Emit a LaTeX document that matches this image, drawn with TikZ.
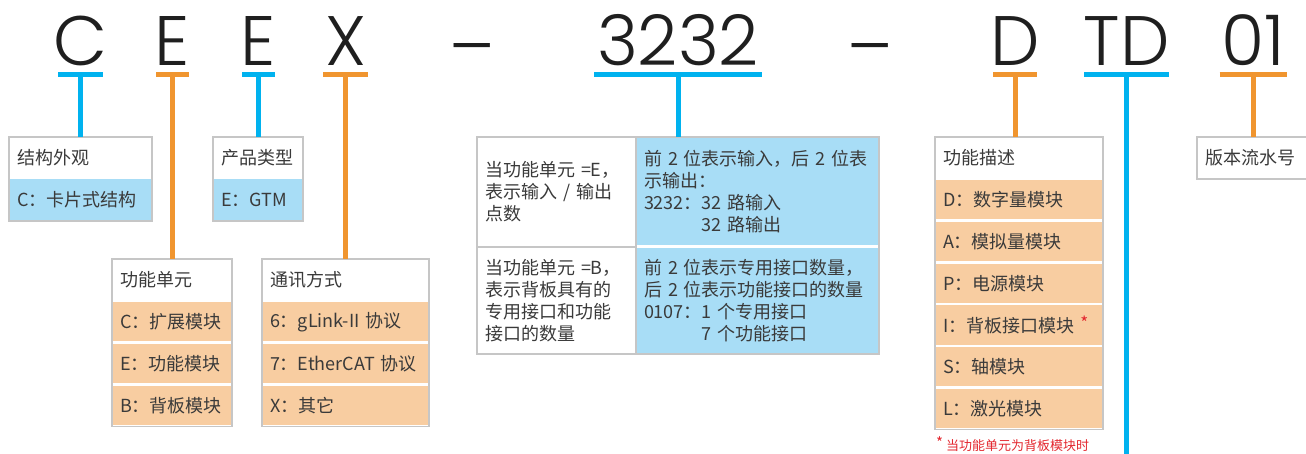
\documentclass[tikz,border=0pt]{standalone}
\usepackage{fontspec}
\usepackage{tikz}
\usetikzlibrary{positioning}
\newfontfamily\cjkfont{Noto Sans CJK SC}
\newfontfamily\codefont{Poppins Light}
\definecolor{lineblue}{HTML}{00B2EF}
\definecolor{lineorange}{HTML}{F0952F}
\definecolor{fillblue}{HTML}{A8DDF6}
\definecolor{fillorange}{HTML}{F8CDA1}
\definecolor{boxgray}{HTML}{C6C6C6}
\definecolor{inkgray}{HTML}{3A3A3A}
\definecolor{notered}{HTML}{E3262E}
\tikzset{code/.style = {font=\codefont\fontsize{70}{70}\selectfont, text=black!88, anchor=base, inner sep=0}}
\tikzset{bluebar/.style = {lineblue, line width=5}}
\tikzset{orangebar/.style = {lineorange, line width=5}}
\tikzset{cell/.style = {font=\cjkfont\fontsize{18}{22}\selectfont, text=inkgray, align=left,
                        inner xsep=8, inner ysep=0, outer sep=0, minimum height=42, text width=#1}}
\tikzset{hdr/.style = {cell=#1, fill=white, anchor=north}}
\tikzset{bluerow/.style = {cell=#1, fill=fillblue}}
\tikzset{orangerow/.style = {cell=#1, fill=fillorange, draw=white, line width=2.5, minimum height=41.7}}
\tikzset{frame/.style = {draw=boxgray, line width=1.2}}
\newcommand{\redstar}{\textcolor{notered}{\raisebox{3pt}{\fontsize{17}{17}\selectfont *}}}

\begin{document}
\begin{tikzpicture}[x=1pt, y=-1pt]
      \useasboundingbox (0, 0) rectangle (1306, 454);

      \node (lc) at (80.5, 66) [code] {C};
      \node (le) at (172.5, 66) [code] {E};
      \node (lt) at (258.5, 66) [code] {E};
      \node (lx) at (345.5, 66) [code] {X};
      \node (da) at (472.5, 72) [code] {–};
      \node (ls) at (678, 66) [code] {3232};
      \node (db) at (870, 72) [code] {–};
      \node (ld) at (1015, 66) [code] {D};
      \node (ltd) at (1126.5, 66) [code] {TD};
      \node (lv) at (1253, 66) [code] {01};

      \coordinate (bc) at (80.5, 75);
      \coordinate (be) at (172.5, 75);
      \coordinate (bt) at (258.5, 75);
      \coordinate (bx) at (345.5, 75);
      \coordinate (bs) at (678, 75);
      \coordinate (bd) at (1015, 75);
      \coordinate (btd) at (1126.5, 75);
      \coordinate (bv) at (1253, 75);
      \coordinate (tdend) at (1126.5, 454);

      % boxes
      \node (jg) at (80.5, 137) [hdr=127] {结构外观};
      \node (jg1) [bluerow=127, below=0pt of jg] {C：卡片式结构};
      \draw [frame] (jg.north west) rectangle (jg1.south east);

      \node (cp) at (258, 137) [hdr=74] {产品类型};
      \node (cp1) [bluerow=74, below=0pt of cp] {E：GTM};
      \draw [frame] (cp.north west) rectangle (cp1.south east);

      \node (gn) at (172, 259) [hdr=104] {功能单元};
      \node (gn1) [orangerow=104, below=0pt of gn] {C：扩展模块};
      \node (gn2) [orangerow=104, below=0pt of gn1] {E：功能模块};
      \node (gn3) [orangerow=104, below=0pt of gn2] {B：背板模块};
      \draw [frame] (gn.north west) rectangle (gn3.south east);

      \node (tx) at (345.5, 259) [hdr=151] {通讯方式};
      \node (tx1) [orangerow=151, below=0pt of tx] {6：gLink-II 协议};
      \node (tx2) [orangerow=151, below=0pt of tx1] {7：EtherCAT 协议};
      \node (tx3) [orangerow=151, below=0pt of tx2] {X：其它};
      \draw [frame] (tx.north west) rectangle (tx3.south east);

      \node (e1) at (477, 137) [cell=143, anchor=north west, minimum height=110, fill=white]
            {当功能单元 =E，\\表示输入 / 输出\\点数};
      \node (e2) [cell=227, right=0pt of e1, minimum height=110, fill=fillblue]
            {前 2 位表示输入，后 2 位表\\示输出：\\3232：32 路输入\\\phantom{3232：}32 路输出};
      \node (b1) [cell=143, below=0pt of e1, minimum height=107, fill=white]
            {当功能单元 =B，\\表示背板具有的\\专用接口和功能\\接口的数量};
      \node (b2) [cell=227, right=0pt of b1, minimum height=107, fill=fillblue]
            {前 2 位表示专用接口数量，\\后 2 位表示功能接口的数量\\0107：1 个专用接口\\\phantom{0107：}7 个功能接口};
      \draw [white, line width=3] (b2.north west) -- (b2.north east);
      \draw [frame] (b1.north west) -- (b1.north east);
      \draw [frame] (e2.north west) -- (b2.south west);
      \draw [frame] (e1.north west) rectangle (b2.south east);

      \node (gm) at (1019, 137) [hdr=152] {功能描述};
      \node (gm1) [orangerow=152, below=0pt of gm] {D：数字量模块};
      \node (gm2) [orangerow=152, below=0pt of gm1] {A：模拟量模块};
      \node (gm3) [orangerow=152, below=0pt of gm2] {P：电源模块};
      \node (gm4) [orangerow=152, below=0pt of gm3] {I：背板接口模块 \redstar};
      \node (gm5) [orangerow=152, below=0pt of gm4] {S：轴模块};
      \node (gm6) [orangerow=152, below=0pt of gm5] {L：激光模块};
      \draw [frame] (gm.north west) rectangle (gm6.south east);
      \node (fn) at (936, 444) [anchor=west, inner sep=0, text=notered, font=\cjkfont\fontsize{13}{13}\selectfont]
            {\raisebox{2pt}{\fontsize{15}{15}\selectfont *} 当功能单元为背板模块时};

      \node (bb) at (1252, 137) [hdr=94] {版本流水号};
      \draw [frame] (bb.north west) rectangle (bb.south east);

      % code bars and leads
      \draw [bluebar] ([xshift=-22.5]bc) -- ([xshift=22.5]bc);
      \draw [orangebar] ([xshift=-16.5]be) -- ([xshift=16.5]be);
      \draw [bluebar] ([xshift=-16.5]bt) -- ([xshift=16.5]bt);
      \draw [orangebar] ([xshift=-22.5]bx) -- ([xshift=22.5]bx);
      \draw [bluebar] ([xshift=-84]bs) -- ([xshift=84]bs);
      \draw [orangebar] ([xshift=-22]bd) -- ([xshift=22]bd);
      \draw [bluebar] ([xshift=-42.5]btd) -- ([xshift=42.5]btd);
      \draw [orangebar] ([xshift=-33.5]bv) -- ([xshift=33.5]bv);

      \draw [bluebar] (bc) -- (bc |- jg.north);
      \draw [orangebar] (be) -- (be |- gn.north);
      \draw [bluebar] (bt) -- (bt |- cp.north);
      \draw [orangebar] (bx) -- (bx |- tx.north);
      \draw [bluebar] (bs) -- (bs |- e2.north);
      \draw [orangebar] (bd) -- (bd |- gm.north);
      \draw [bluebar] (btd) -- (tdend);
      \draw [orangebar] (bv) -- (bv |- bb.north);
\end{tikzpicture}
\end{document}
